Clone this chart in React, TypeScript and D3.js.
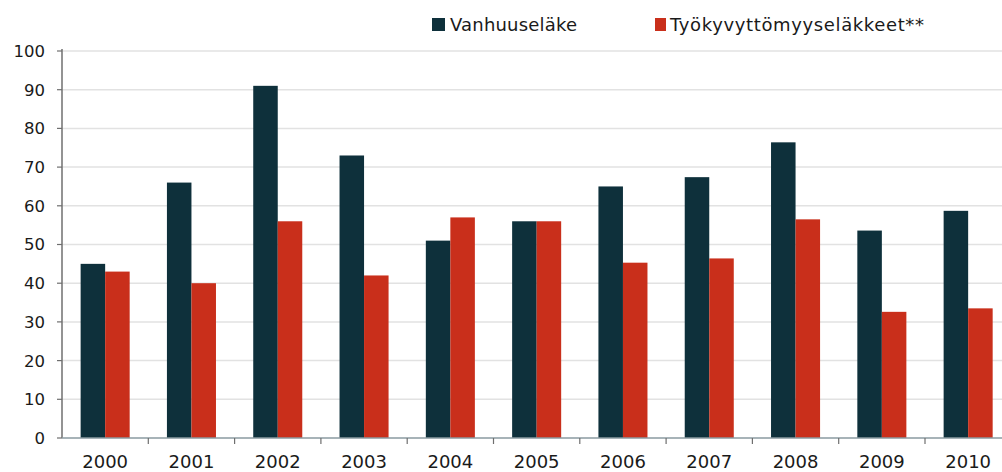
import React from "react";
import * as d3 from "d3";

const years = ["2000","2001","2002","2003","2004","2005","2006","2007","2008","2009","2010"];
const vanhuus = [45, 66, 91, 73, 51, 56, 65, 67.4, 76.4, 53.6, 58.7];
const tyokyvyttomyys = [43, 40, 56, 42, 57, 56, 45.3, 46.4, 56.5, 32.6, 33.5];
const yTicks = [0, 10, 20, 30, 40, 50, 60, 70, 80, 90, 100];
const seriesNames = ["Vanhuuseläke", "Työkyvyttömyyseläkkeet**"];
const colors = ["#0e303b", "#c92f1b"];

export default function App() {
  const W = 1002, H = 472;
  const x0 = 62, step = 86.3;
  const x = d3.scaleBand<string>().domain(years).range([x0, x0 + step * years.length]).padding(0);
  const xs = d3.scaleBand<string>().domain(["a", "b"]).range([0, x.bandwidth()]).paddingInner(0).paddingOuter(0.76);
  const y = d3.scaleLinear().domain([0, 100]).range([438, 51]);
  const font = "'DejaVu Sans', Verdana, sans-serif";
  const series = [vanhuus, tyokyvyttomyys];
  return (
    <svg width={W} height={H} style={{ position: "absolute", left: 0, top: 0, background: "#fff" }} fontFamily={font}>
      {yTicks.filter(t => t > 0).map(t => (
        <line key={"g" + t} x1={x0} x2={W} y1={y(t)} y2={y(t)} stroke="#e2e2e2" strokeWidth={1.5} />
      ))}
      {series.map((vals, si) =>
        years.map((yr, i) => (
          <rect key={si + "-" + yr}
            x={(x(yr) as number) + (xs(si === 0 ? "a" : "b") as number)}
            y={y(vals[i])}
            width={xs.bandwidth()}
            height={y(0) - y(vals[i])}
            fill={colors[si]} />
        ))
      )}
      <line x1={x0} x2={x0} y1={y(100) - 2} y2={y(0)} stroke="#6f6f6f" strokeWidth={1.5} />
      <line x1={x0} x2={W} y1={y(0)} y2={y(0)} stroke="#8a9aa0" strokeWidth={1.5} />
      {yTicks.map(t => (
        <g key={"t" + t}>
          <line x1={x0 - 5} x2={x0} y1={y(t)} y2={y(t)} stroke="#6f6f6f" strokeWidth={1.2} />
          <text x={45} y={y(t)} dy="0.36em" textAnchor="end" fontSize={16.5} fill="#1a1a1a">{t}</text>
        </g>
      ))}
      {years.map((yr, i) => (
        <g key={"x" + yr}>
          <line x1={(x(yr) as number) + step} x2={(x(yr) as number) + step} y1={y(0)} y2={y(0) + 6} stroke="#6f6f6f" strokeWidth={1.2} />
          <text x={(x(yr) as number) + step / 2} y={468} textAnchor="middle" fontSize={18} fill="#1a1a1a">{yr}</text>
        </g>
      ))}
      <g>
        <rect x={432} y={18} width={13} height={13} fill={colors[0]} />
        <text x={450} y={31} fontSize={18} fill="#1a1a1a" textLength={127} lengthAdjust="spacing">{seriesNames[0]}</text>
        <rect x={655} y={18} width={11} height={13} fill={colors[1]} />
        <text x={670} y={31} fontSize={18} fill="#1a1a1a" textLength={254} lengthAdjust="spacing">{seriesNames[1]}</text>
      </g>
    </svg>
  );
}
